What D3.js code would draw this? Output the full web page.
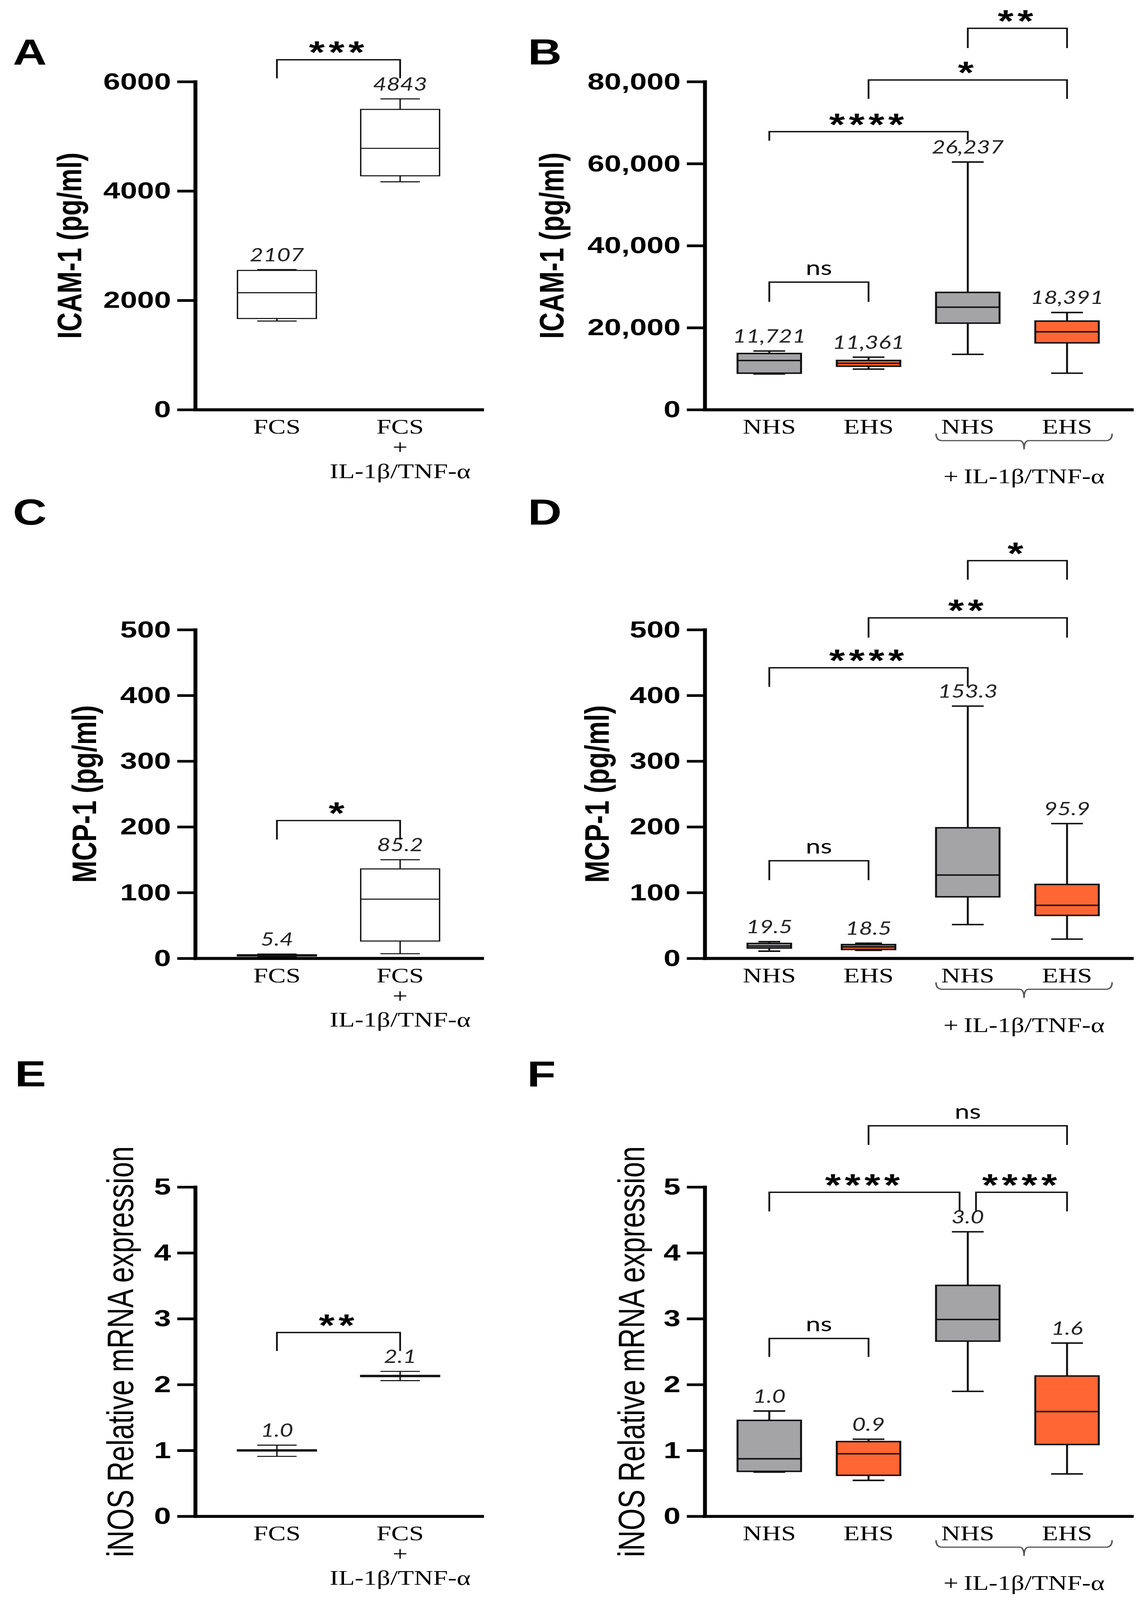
<!DOCTYPE html>
<html>
<head>
<meta charset="utf-8">
<script src="https://cdn.jsdelivr.net/npm/d3@7/dist/d3.min.js"></script>
<style>
  html, body { margin: 0; padding: 0; background: #fff; overflow: hidden; }
  svg { display: block; }
</style>
</head>
<body>
<div id="figure"></div>
<script>
// ---- data ----
// box = min, q1, median, q3, max

// A: ICAM-1, FCS vs FCS + IL-1b/TNF-a
var catsA = ["FCS", "FCS+"];
var minA = [1621, 4168];
var q1A = [1668, 4278];
var medA = [2139, 4780];
var q3A = [2547, 5492];
var maxA = [2563, 5685];
var meanA = ["2107", "4843"];
var ticksA = [0, 2000, 4000, 6000];
var bracketsA = [[0, 1, 6400, 6060, "***"]];

// B: ICAM-1, NHS/EHS
var catsB = ["NHS", "EHS", "NHS", "EHS"];
var minB = [8700, 9900, 13500, 8900];
var q1B = [8900, 10600, 21100, 16300];
var medB = [12000, 11300, 25000, 19000];
var q3B = [13700, 12000, 28600, 21600];
var maxB = [14300, 12800, 60400, 23700];
var meanB = ["11,721", "11,361", "26,237", "18,391"];
var ticksB = [0, 20000, 40000, 60000, 80000];
var bracketsB = [[0, 1, 31100, 26300, "ns"], [0, 2, 67800, 65600, "****"], [1, 3, 80400, 75800, "*"], [2, 3, 93000, 88200, "**"]];

// C: MCP-1, FCS
var catsC = ["FCS", "FCS+"];
var minC = [2.5, 7];
var q1C = [3.5, 26.3];
var medC = [4.5, 90];
var q3C = [5.5, 136];
var maxC = [6.5, 150];
var meanC = ["5.4", "85.2"];
var ticksC = [0, 100, 200, 300, 400, 500];
var bracketsC = [[0, 1, 209.6, 180.7, "*"]];

// D: MCP-1, NHS/EHS
var catsD = ["NHS", "EHS", "NHS", "EHS"];
var minD = [10.9, 12.2, 51.4, 29.2];
var q1D = [15.7, 13.5, 93.6, 65.3];
var medD = [18.7, 17.4, 126.7, 80.6];
var q3D = [22.6, 20.9, 198.6, 112.4];
var maxD = [25.3, 23, 383.7, 205];
var meanD = ["19.5", "18.5", "153.3", "95.9"];
var ticksD = [0, 100, 200, 300, 400, 500];
var bracketsD = [[0, 1, 148.5, 118.9, "ns"], [0, 2, 442, 413, "****"], [1, 3, 518, 488, "**"], [2, 3, 605, 576, "*"]];

// E: iNOS, FCS
var catsE = ["FCS", "FCS+"];
var minE = [0.91, 2.06];
var q1E = [0.99, 2.12];
var medE = [1.0, 2.13];
var q3E = [1.01, 2.14];
var maxE = [1.08, 2.2];
var meanE = ["1.0", "2.1"];
var ticksE = [0, 1, 2, 3, 4, 5];
var bracketsE = [[0, 1, 2.79, 2.51, "**"]];

// F: iNOS, NHS/EHS
var catsF = ["NHS", "EHS", "NHS", "EHS"];
var minF = [0.671, 0.545, 1.897, 0.643];
var q1F = [0.682, 0.622, 2.66, 1.09];
var medF = [0.873, 0.949, 2.988, 1.59];
var q3F = [1.456, 1.134, 3.506, 2.13];
var maxF = [1.598, 1.17, 4.32, 2.63];
var meanF = ["1.0", "0.9", "3.0", "1.6"];
var ticksF = [0, 1, 2, 3, 4, 5];
var bracketsF = [[0, 1, 2.70, 2.42, "ns"], [0, 2, 4.92, 4.63, "****"], [2, 3, 4.92, 4.63, "****"], [1, 3, 5.93, 5.64, "ns"]];

var stimLabel = "+\u2009IL-1\u03b2/TNF-\u03b1";
var fcsLabels = [["FCS"], ["FCS", "+", "IL-1\u03b2/TNF-\u03b1"]];

// ---- layout ----
var w = 2935, h = 5331;
var gray = "#a4a4a7", orange = "#ff6633";
var sans = "'Liberation Sans', Arial, sans-serif";
var serif = "'Liberation Serif', 'Times New Roman', serif";
var italicFont = "Lato, 'Open Sans', sans-serif";

// the window can come out shorter than the figure: fit the whole figure into it
var vw = window.innerWidth || w;
var vh = window.innerHeight || h;
if (vw >= w) vw = w;
if (vh >= h) vh = h;

var svg = d3.select("#figure")
    .append("svg")
    .attr("width", vw)
    .attr("height", vh)
    .attr("viewBox", "0 0 " + w + " " + h)
    .attr("preserveAspectRatio", "none")
    .style("background", "#fff");

var leftCol = { axisX: 500, len: 734 };
var rightCol = { axisX: 1805, len: 1093 };
var rows = [{ yTop: 272, y0: 1365 }, { yTop: 2098, y0: 3193 }, { yTop: 3955, y0: 5052 }];

var commaFmt = d3.format(",");
var fullBoxes = [0.64, 0.64, 0.64, 0.64];

drawPanel({ letter: "A", lx: 33, ly: 215, col: leftCol, row: rows[0], max: 6000, ticks: ticksA, fmt: d3.format("d"),
    title: "ICAM-1 (pg/ml)", titleOff: 322, titleBold: true, cats: catsA, mins: minA, q1: q1A, med: medA, q3: q3A, maxs: maxA,
    means: meanA, brackets: bracketsA, stim: false, stroke: 3.5, boxW: fullBoxes });
drawPanel({ letter: "B", lx: 1352, ly: 215, col: rightCol, row: rows[0], max: 80000, ticks: ticksB, fmt: commaFmt,
    title: "ICAM-1 (pg/ml)", titleOff: 392, titleBold: true, cats: catsB, mins: minB, q1: q1B, med: medB, q3: q3B, maxs: maxB,
    means: meanB, brackets: bracketsB, stim: true, stroke: 5, boxW: fullBoxes });
drawPanel({ letter: "C", lx: 33, ly: 1748, col: leftCol, row: rows[1], max: 500, ticks: ticksC, fmt: d3.format("d"),
    title: "MCP-1 (pg/ml)", titleOff: 284, titleBold: true, cats: catsC, mins: minC, q1: q1C, med: medC, q3: q3C, maxs: maxC,
    means: meanC, brackets: bracketsC, stim: false, stroke: 3.5, boxW: fullBoxes });
drawPanel({ letter: "D", lx: 1352, ly: 1748, col: rightCol, row: rows[1], max: 500, ticks: ticksD, fmt: d3.format("d"),
    title: "MCP-1 (pg/ml)", titleOff: 276, titleBold: true, cats: catsD, mins: minD, q1: q1D, med: medD, q3: q3D, maxs: maxD,
    means: meanD, brackets: bracketsD, stim: true, stroke: 5, boxW: [0.44, 0.54, 0.64, 0.64] });
drawPanel({ letter: "E", lx: 38, ly: 3619, col: leftCol, row: rows[2], max: 5, ticks: ticksE, fmt: d3.format("d"),
    title: "iNOS Relative mRNA expression", titleOff: 192, titleBold: false, cats: catsE, mins: minE, q1: q1E, med: medE, q3: q3E, maxs: maxE,
    means: meanE, brackets: bracketsE, stim: false, stroke: 3.5, boxW: fullBoxes });
drawPanel({ letter: "F", lx: 1350, ly: 3619, col: rightCol, row: rows[2], max: 5, ticks: ticksF, fmt: d3.format("d"),
    title: "iNOS Relative mRNA expression", titleOff: 188, titleBold: false, cats: catsF, mins: minF, q1: q1F, med: medF, q3: q3F, maxs: maxF,
    means: meanF, brackets: bracketsF, stim: true, stroke: 5, boxW: fullBoxes });

function drawPanel(p) {
    var g = svg.append("g");
    var n = p.cats.length;
    var x = d3.scalePoint()
        .domain(d3.range(n))
        .range([p.col.axisX, p.col.axisX + p.col.len])
        .padding(n == 2 ? 0.663 : 0.65);
    var y = d3.scaleLinear()
        .domain([0, p.max])
        .range([p.row.y0, p.row.yTop]);
    var bwOf = function(i) { return x.step() * p.boxW[i]; };
    var bw = x.step() * 0.64;

    // panel letter
    g.append("text")
        .attr("x", p.lx)
        .attr("y", p.ly)
        .style("font-family", sans)
        .style("font-weight", "bold")
        .style("font-size", "120px")
        .text(p.letter);

    // y title
    var ty = (p.row.y0 + p.row.yTop) / 2;
    g.append("text")
        .attr("transform", "translate(" + (p.col.axisX - p.titleOff) + "," + ty + ") rotate(-90)")
        .attr("text-anchor", "middle")
        .attr("dominant-baseline", "central")
        .style("font-family", sans)
        .style("font-weight", p.titleBold ? "bold" : "normal")
        .style("font-size", p.titleBold ? "88px" : "94px")
        .text(p.title);

    // y axis
    var yAxis = d3.axisLeft(y)
        .tickValues(p.ticks)
        .tickSize(46)
        .tickSizeOuter(0)
        .tickPadding(16)
        .tickFormat(p.fmt);
    var ya = g.append("g")
        .attr("transform", "translate(" + p.col.axisX + ",0)")
        .call(yAxis);
    ya.select(".domain").attr("stroke-width", 10).attr("stroke-linecap", "square");
    ya.selectAll(".tick line").attr("stroke-width", 9);
    ya.selectAll(".tick text")
        .style("font-family", sans)
        .style("font-weight", "bold")
        .style("font-size", "78px")
        .attr("fill", "#000");

    // x axis (no ticks)
    var xa = g.append("g")
        .attr("transform", "translate(0," + p.row.y0 + ")")
        .call(d3.axisBottom(x).tickValues([]).tickSizeOuter(0));
    xa.select(".domain").attr("stroke-width", 10).attr("stroke-linecap", "square");

    // boxes
    var idx = d3.range(n);
    var fillOf = function(i) {
        if (p.cats[i] == "NHS") return gray;
        if (p.cats[i] == "EHS") return orange;
        return "#fff";
    };
    var boxes = g.selectAll(".box").data(idx).enter().append("g").attr("class", "box");
    boxes.append("line")
        .attr("x1", function(i) { return x(i); })
        .attr("x2", function(i) { return x(i); })
        .attr("y1", function(i) { return y(p.mins[i]); })
        .attr("y2", function(i) { return y(p.maxs[i]); })
        .attr("stroke", "#111")
        .attr("stroke-width", p.stroke);
    boxes.append("rect")
        .attr("x", function(i) { return x(i) - bwOf(i) / 2; })
        .attr("width", bwOf)
        .attr("y", function(i) { return y(p.q3[i]); })
        .attr("height", function(i) { return y(p.q1[i]) - y(p.q3[i]); })
        .attr("fill", fillOf)
        .attr("stroke", "#111")
        .attr("stroke-width", p.stroke);
    boxes.append("line")
        .attr("x1", function(i) { return x(i) - bwOf(i) / 2; })
        .attr("x2", function(i) { return x(i) + bwOf(i) / 2; })
        .attr("y1", function(i) { return y(p.med[i]); })
        .attr("y2", function(i) { return y(p.med[i]); })
        .attr("stroke", "#111")
        .attr("stroke-width", p.stroke);
    ["mins", "maxs"].forEach(function(k) {
        boxes.append("line")
            .attr("x1", function(i) { return x(i) - bwOf(i) / 4; })
            .attr("x2", function(i) { return x(i) + bwOf(i) / 4; })
            .attr("y1", function(i) { return y(p[k][i]); })
            .attr("y2", function(i) { return y(p[k][i]); })
            .attr("stroke", "#111")
            .attr("stroke-width", p.stroke);
    });
    boxes.append("text")
        .attr("x", function(i) { return x(i); })
        .attr("y", function(i) { return y(p.maxs[i]) - 28; })
        .attr("text-anchor", "middle")
        .style("font-family", italicFont)
        .style("font-style", "italic")
        .style("font-size", "60px")
        .attr("fill", "#222")
        .text(function(i) { return p.means[i]; });

    // significance brackets
    p.brackets.forEach(function(b) {
        var xa1 = x(b[0]), xb1 = x(b[1]);
        p.brackets.forEach(function(o) {
            if (o === b || o[2] != b[2]) return;
            if (o[1] == b[0]) xa1 += 21;
            if (o[0] == b[1]) xb1 -= 21;
        });
        g.append("path")
            .attr("d", "M" + xa1 + "," + y(b[3]) + "V" + y(b[2]) + "H" + xb1 + "V" + y(b[3]))
            .attr("fill", "none")
            .attr("stroke", "#111")
            .attr("stroke-width", 4.5);
        var isNs = b[4] == "ns";
        g.append("text")
            .attr("x", (xa1 + xb1) / 2)
            .attr("y", isNs ? y(b[2]) - 24 : y(b[2]) + 11)
            .attr("text-anchor", "middle")
            .style("font-family", isNs ? italicFont : sans)
            .style("font-weight", isNs ? "normal" : "bold")
            .style("font-size", isNs ? "68px" : "104px")
            .style("letter-spacing", isNs ? "0px" : "10px")
            .text(b[4]);
    });

    // x labels
    var y0 = p.row.y0;
    if (!p.stim) {
        idx.forEach(function(i) {
            var lines = fcsLabels[i];
            var offs = [80, 148, 228];
            lines.forEach(function(t, j) {
                g.append("text")
                    .attr("x", x(i))
                    .attr("y", y0 + offs[j])
                    .attr("text-anchor", "middle")
                    .style("font-family", serif)
                    .style("font-size", "68px")
                    .text(t);
            });
        });
    } else {
        g.selectAll(".xl").data(idx).enter().append("text")
            .attr("x", function(i) { return x(i); })
            .attr("y", y0 + 80)
            .attr("text-anchor", "middle")
            .style("font-family", serif)
            .style("font-size", "68px")
            .text(function(i) { return p.cats[i]; });
        // brace under the stimulated pair
        var bx1 = x(2) - bw / 2, bx2 = x(3) + bw / 2 + 34, cx = (bx1 + bx2) / 2;
        var yt = y0 + 80, ym = y0 + 103, yb = y0 + 132;
        g.append("path")
            .attr("d", "M" + bx1 + "," + yt + "Q" + bx1 + "," + ym + " " + (bx1 + 16) + "," + ym +
                "H" + (cx - 12) + "Q" + cx + "," + ym + " " + cx + "," + yb +
                "Q" + cx + "," + ym + " " + (cx + 12) + "," + ym +
                "H" + (bx2 - 16) + "Q" + bx2 + "," + ym + " " + bx2 + "," + yt)
            .attr("fill", "none")
            .attr("stroke", "#555")
            .attr("stroke-width", 4);
        g.append("text")
            .attr("x", cx)
            .attr("y", y0 + 245)
            .attr("text-anchor", "middle")
            .style("font-family", serif)
            .style("font-size", "68px")
            .text(stimLabel);
    }
}
</script>
</body>
</html>
